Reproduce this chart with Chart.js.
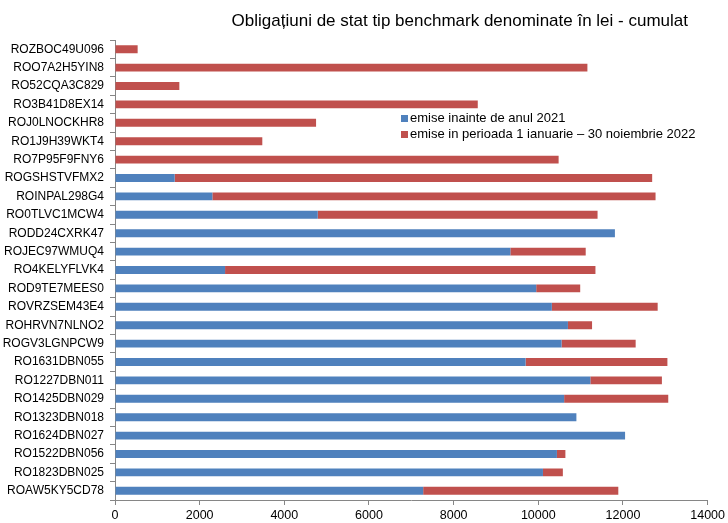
<!DOCTYPE html>
<html>
<head>
<meta charset="utf-8">
<script src="https://cdn.jsdelivr.net/npm/chart.js@4"></script>
<style>
  body { margin: 0; background: #fff; }
  #wrap { position: relative; width: 728px; height: 523px; }
  #title { position: absolute; right: 40px; top: 12px; font: 17px "Liberation Sans", Arial, sans-serif; line-height: 17px; color: #000; white-space: nowrap; }
  #legend { position: absolute; left: 401px; top: 110px; font: 13px "Liberation Sans", Arial, sans-serif; color: #000; }
  #legend div { height: 16px; line-height: 16px; white-space: nowrap; }
  #legend span { display: inline-block; width: 7px; height: 7px; margin-right: 2px; vertical-align: 0px; }
</style>
</head>
<body>
<div id="wrap">
  <canvas id="chart" width="728" height="523"></canvas>
  <div id="title">Obligațiuni de stat tip benchmark denominate în lei - cumulat</div>
  <div id="legend"></div>
</div>
<script>
'use strict'

const bonds = ['ROZBOC49U096','ROO7A2H5YIN8','RO52CQA3C829','RO3B41D8EX14','ROJ0LNOCKHR8','RO1J9H39WKT4','RO7P95F9FNY6','ROGSHSTVFMX2','ROINPAL298G4','RO0TLVC1MCW4','RODD24CXRK47','ROJEC97WMUQ4','RO4KELYFLVK4','ROD9TE7MEES0','ROVRZSEM43E4','ROHRVN7NLNO2','ROGV3LGNPCW9','RO1631DBN055','RO1227DBN011','RO1425DBN029','RO1323DBN018','RO1624DBN027','RO1522DBN056','RO1823DBN025','ROAW5KY5CD78']

// emise inainte de anul 2021
const before2021 = [0,0,0,0,0,0,0,1410,2300,4790,11810,9340,2600,9950,10320,10700,10550,9700,11230,10610,10900,12050,10440,10110,7280]
// emise in perioada 1 ianuarie - 30 noiembrie 2022
const in2022 = [535,11160,1520,8570,4750,3480,10480,11280,10470,6610,0,1780,8750,1040,2500,570,1750,3350,1690,2460,0,0,200,470,4610]

const xTicks = [0,2000,4000,6000,8000,10000,12000,14000]

const fontFamily = '"Liberation Sans", Arial, sans-serif'

const ctx = document.getElementById('chart')

const bondChart = new Chart(ctx, {
    type: 'bar',
    data: {
        labels: bonds,
        datasets: [{
            label: 'emise inainte de anul 2021',
            data: before2021,
            backgroundColor: '#4F81BD',
            categoryPercentage: 1,
            barPercentage: 0.43,
        }, {
            label: 'emise in perioada 1 ianuarie \u2013 30 noiembrie 2022',
            data: in2022,
            backgroundColor: '#C0504D',
            categoryPercentage: 1,
            barPercentage: 0.43,
        }]
    },
    options: {
        indexAxis: 'y',
        responsive: false,
        animation: false,
        layout: { padding: { left: 0, right: 18, top: 40, bottom: 0 } },
        plugins: {
            legend: { display: false },
            tooltip: { enabled: false },
            title: { display: false }
        },
        scales: {
            x: {
                stacked: true,
                min: 0,
                max: 14000,
                afterBuildTicks: (axis) => { axis.ticks = xTicks.map(v => ({ value: v })) },
                afterFit: (axis) => { axis.height = 23 },
                grid: { display: true, drawOnChartArea: false, tickLength: 5, color: '#868686' },
                border: { color: '#868686' },
                ticks: { color: '#000', font: { family: fontFamily, size: 12.5 }, padding: 3, maxRotation: 0, callback: v => String(v) }
            },
            y: {
                stacked: true,
                afterFit: (axis) => { axis.width = 115 },
                grid: { display: true, drawOnChartArea: false, tickLength: 5, color: '#868686', offset: true },
                border: { color: '#868686' },
                ticks: { color: '#000', font: { family: fontFamily, size: 12 }, padding: 6, autoSkip: false }
            }
        }
    }
})

const legend = document.getElementById('legend')
bondChart.data.datasets.forEach(ds => {
    const row = document.createElement('div')
    const box = document.createElement('span')
    box.style.background = ds.backgroundColor
    row.appendChild(box)
    row.appendChild(document.createTextNode(ds.label))
    legend.appendChild(row)
})
</script>
</body>
</html>
